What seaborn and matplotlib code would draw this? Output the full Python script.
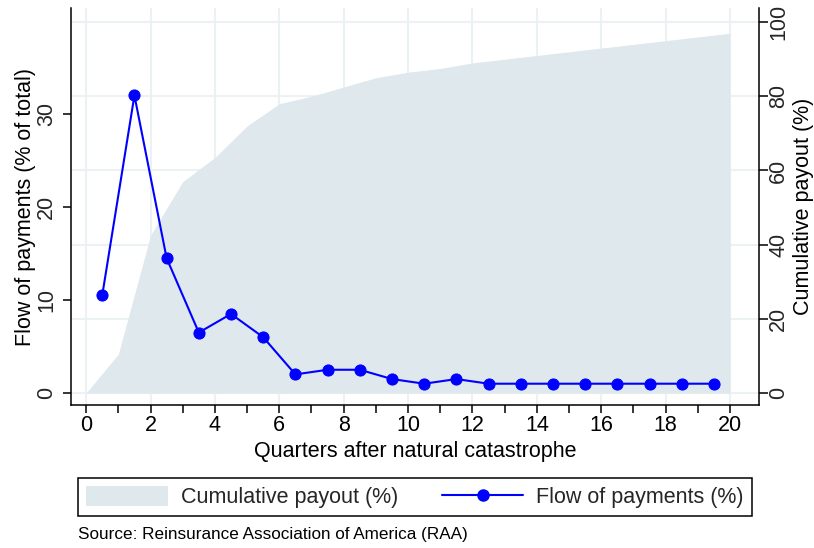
import matplotlib
matplotlib.use("Agg")
import matplotlib.pyplot as plt
from matplotlib.patches import Patch
from matplotlib.lines import Line2D
from matplotlib.ticker import MultipleLocator, FixedLocator
import pandas as pd
import seaborn as sns

# Payments in each quarter after the event (% of total), plotted at quarter midpoints
quarter_mid = [0.5, 1.5, 2.5, 3.5, 4.5, 5.5, 6.5, 7.5, 8.5, 9.5,
               10.5, 11.5, 12.5, 13.5, 14.5, 15.5, 16.5, 17.5, 18.5, 19.5]
flow_pct = [10.5, 32.0, 14.5, 6.5, 8.5, 6.0, 2.0, 2.5, 2.5, 1.5,
            1.0, 1.5, 1.0, 1.0, 1.0, 1.0, 1.0, 1.0, 1.0, 1.0]

# Cumulative payout at the end of each quarter (%)
quarter_end = [0, 1, 2, 3, 4, 5, 6, 7, 8, 9, 10,
               11, 12, 13, 14, 15, 16, 17, 18, 19, 20]
cumulative_pct = [0.0, 10.5, 42.5, 57.0, 63.5, 72.0, 78.0, 80.0, 82.5, 85.0, 86.5,
                  87.5, 89.0, 90.0, 91.0, 92.0, 93.0, 94.0, 95.0, 96.0, 97.0]

flow_ticks = [0, 10, 20, 30]
cum_ticks = [0, 20, 40, 60, 80, 100]

flow_label = "Flow of payments (%)"
cum_label = "Cumulative payout (%)"
x_title = "Quarters after natural catastrophe"
left_title = "Flow of payments (% of total)"
right_title = "Cumulative payout (%)"
source_note = "Source: Reinsurance Association of America (RAA)"

FILL = "#dfe8ed"
GRID = "#eaf2f3"
BLUE = "#0000ff"
FS = 15.5

sns.set_theme(style="white")
plt.rcParams["font.family"] = ["Liberation Sans", "DejaVu Sans"]
plt.rcParams["font.size"] = FS

flow_df = pd.DataFrame({"quarter": quarter_mid, "flow": flow_pct})

W, H = 814, 548
fig = plt.figure(figsize=(W / 100, H / 100), dpi=100)
ax = fig.add_axes([71 / W, 1 - 405 / H, 688 / W, 397 / H])
ax2 = ax.twinx()

# bottom layer: cumulative area on the right-hand scale, with the grid
ax.set_zorder(0)
ax2.set_zorder(1)
ax2.patch.set_visible(False)
ax.set_axisbelow(True)
ax.fill_between(quarter_end, 0, cumulative_pct, color=FILL, linewidth=0, zorder=1)

# top layer: quarterly flow on the left-hand scale
sns.lineplot(data=flow_df, x="quarter", y="flow", ax=ax2, color=BLUE,
             linewidth=1.5, marker="o", markersize=8, markeredgecolor=BLUE,
             markerfacecolor=BLUE, legend=False)

# swap sides so the flow scale sits on the left
ax.yaxis.tick_right()
ax.yaxis.set_label_position("right")
ax2.yaxis.tick_left()
ax2.yaxis.set_label_position("left")

ax.set_xlim(-0.47, 20.9)
ax.set_ylim(-3.23, 103.8)
ax2.set_ylim(-1.29, 41.4)

ax.xaxis.set_major_locator(MultipleLocator(2))
ax.xaxis.set_minor_locator(MultipleLocator(1))
ax.yaxis.set_major_locator(FixedLocator(cum_ticks))
ax2.yaxis.set_major_locator(FixedLocator(flow_ticks))

ax.grid(True, which="major", color=GRID, linewidth=1.5)
ax.grid(False, which="minor")
ax2.grid(False)

ax.spines["top"].set_visible(False)
for s in ax2.spines.values():
    s.set_visible(False)
for s in ["left", "right", "bottom"]:
    ax.spines[s].set_color("black")
    ax.spines[s].set_linewidth(1.1)

ax.tick_params(axis="x", which="both", direction="out", length=5.5, width=1.1,
               color="black", bottom=True, pad=2, labelsize=FS, labelcolor="black")
ax.tick_params(axis="y", which="major", direction="out", length=6.5, width=1.1,
               color="black", right=True, left=False, labelright=True, labelleft=False,
               pad=0, labelsize=FS, labelrotation=90)
ax2.tick_params(axis="y", which="major", direction="out", length=6, width=1.1,
                color="black", left=True, right=False, labelleft=True, labelright=False,
                pad=4, labelsize=FS, labelrotation=90)
for lab in ax.get_yticklabels():
    lab.set_va("center")
for lab in ax2.get_yticklabels():
    lab.set_va("center")

ax.set_xlabel(x_title, fontsize=FS, labelpad=3, color="black")
ax.set_ylabel(right_title, fontsize=FS, labelpad=2.5, color="black")
ax2.set_ylabel(left_title, fontsize=FS, labelpad=0, color="black")
ax2.set_xlabel("")

handles = [
    Patch(facecolor=FILL, edgecolor="none", label=cum_label),
    Line2D([0], [0], color=BLUE, linewidth=1.5, marker="o", markersize=8,
           markerfacecolor=BLUE, markeredgecolor=BLUE, label=flow_label),
]
leg = fig.legend(handles=handles, loc="center", ncol=2,
                 bbox_to_anchor=(78 / W, 1 - 517 / H, 674 / W, 40 / H),
                 mode="expand", frameon=True, fancybox=False, framealpha=1,
                 edgecolor="black", fontsize=FS, handlelength=3.8, handleheight=1.07,
                 handletextpad=0.6, borderpad=0.38, borderaxespad=0, columnspacing=1.7)
leg.get_frame().set_linewidth(1.1)

fig.text(78 / W, 1 - 535 / H, source_note, fontsize=12.3, ha="left", va="center",
         color="black")

fig.savefig("out.png", dpi=100)
